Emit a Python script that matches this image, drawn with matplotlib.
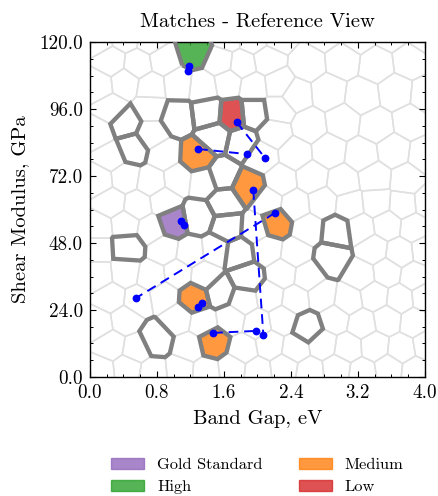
import numpy as np
import matplotlib
matplotlib.use('Agg')
import matplotlib.pyplot as plt
import matplotlib.tri as mtri
from matplotlib.patches import Polygon, Patch
from matplotlib.ticker import MultipleLocator, FormatStrFormatter

plt.rcParams['font.family'] = 'serif'
plt.rcParams['font.serif'] = ['cmr10']
plt.rcParams['mathtext.fontset'] = 'cm'
plt.rcParams['axes.formatter.use_mathtext'] = True

# highlighted cells (band gap eV, shear modulus GPa) and their class
HL_X = [1.25, 1.04, 1.41, 1.70, 1.95, 1.49, 1.81, 1.28, 1.58, 1.89, 1.61, 1.29, 0.98,
        1.64, 2.21, 1.77, 1.87, 1.55, 1.25, 1.47, 0.78, 0.44, 2.95, 2.89, 2.60, 0.42, 0.50]
HL_Y = [117.0, 93.2, 94.6, 93.9, 94.6, 86.0, 83.9, 78.9, 72.4, 68.1, 62.4, 57.3, 55.6,
        53.8, 55.2, 44.4, 35.5, 30.5, 28.3, 12.5, 13.3, 46.6, 52.0, 42.6, 17.6, 91.0, 82.1]
HL_CAT = ['high', '', '', 'low', '', '', '', 'medium', '', 'medium', '', '', 'gold',
          '', 'medium', '', '', '', 'medium', 'medium', '', '', '', '', '', '', '']

# background cells, row by row from the bottom
BG_X = [0.12, 0.45, 0.75, 1.08, 1.38, 1.70, 2.00, 2.32, 2.62, 2.95, 3.25, 3.57, 3.88,
        0.25, 0.55, 0.88, 1.18, 1.52, 1.83, 2.15, 2.45, 2.78, 3.08, 3.40, 3.72, 4.02,
        0.10, 0.42, 0.72, 1.05, 1.35, 1.68, 2.00, 2.30, 2.62, 2.92, 3.25, 3.55, 3.87,
        0.25, 0.57, 0.88, 1.20, 1.52, 1.83, 2.15, 2.45, 2.77, 3.08, 3.40, 3.70, 4.00,
        0.10, 0.42, 0.73, 1.05, 1.37, 1.68, 2.00, 2.30, 2.60, 2.92, 3.23, 3.55, 3.87,
        0.10, 0.25, 0.57, 0.88, 1.20, 1.50, 1.82, 2.12, 2.45, 2.75, 3.08, 3.38, 3.70, 4.00,
        0.10, 0.42, 0.73, 1.05, 1.37, 1.68, 1.98, 2.30, 2.60, 2.92, 3.23, 3.55, 3.87,
        0.25, 0.57, 0.88, 1.20, 1.50, 1.82, 2.12, 2.45, 2.78, 3.10, 3.42, 3.74, 4.03,
        0.10, 0.42, 0.73, 1.05, 1.35, 1.65, 1.95, 2.28, 2.65, 3.02, 3.40, 3.78,
        0.25, 0.57, 0.88, 1.18, 1.50, 1.80, 2.05, 2.45, 2.85, 3.25, 3.62, 4.00,
        0.10, 0.42, 0.73, 1.05, 1.35, 1.65, 1.95, 2.20, 2.62, 3.02, 3.42, 3.82,
        0.25, 0.72, 2.25, 2.45, 2.85, 3.25, 3.65, 4.02,
        0.10, 0.42, 0.73, 1.05, 1.35, 1.65, 1.95, 2.25,
        0.25, 0.57, 0.88, 1.55, 1.82, 2.12, 2.60, 3.02, 3.42, 3.82,
        0.10, 0.42, 0.73, 1.65, 1.95, 2.25, 2.80, 3.20, 3.60, 4.00]
BG_Y = [2.0, 3.0, 1.5, 2.5, 1.8, 3.0, 2.0, 3.2, 1.8, 2.8, 1.5, 3.0, 2.0,
        11.5, 10.0, 11.8, 10.5, 11.0, 9.8, 11.5, 10.2, 11.8, 10.5, 11.0, 10.0, 11.5,
        19.0, 20.5, 19.2, 21.0, 19.5, 20.8, 19.0, 20.5, 19.2, 20.8, 19.0, 20.5, 19.5,
        28.5, 27.5, 29.0, 27.8, 28.5, 27.5, 29.0, 27.8, 28.8, 27.5, 29.0, 28.0, 28.8,
        36.5, 37.5, 36.0, 37.0, 36.2, 37.5, 36.0, 37.0, 36.0, 37.5, 36.5, 37.5, 36.0,
        46.0, 45.5, 44.5, 45.8, 44.5, 45.5, 44.8, 45.8, 44.5, 45.5, 44.8, 45.8, 44.5, 45.5,
        53.5, 54.5, 53.0, 54.0, 53.0, 54.5, 53.2, 54.5, 53.0, 54.0, 53.2, 54.5, 53.5,
        62.5, 61.5, 62.8, 61.5, 62.5, 61.5, 62.8, 61.5, 62.5, 61.5, 62.5, 61.8, 62.5,
        70.5, 71.5, 70.0, 71.0, 70.0, 71.5, 70.0, 70.5, 71.5, 70.0, 71.5, 70.5,
        79.0, 78.0, 79.5, 78.0, 79.5, 78.5, 79.0, 80.0, 81.0, 79.5, 81.0, 79.5,
        87.5, 88.5, 87.0, 88.0, 87.0, 88.5, 87.0, 87.5, 90.0, 91.5, 90.0, 91.5,
        96.0, 96.5, 96.0, 101.0, 102.0, 100.5, 102.0, 101.0,
        104.5, 105.5, 104.0, 105.0, 104.0, 105.5, 104.0, 105.0,
        113.0, 112.0, 113.5, 113.0, 112.0, 113.5, 112.5, 113.5, 112.0, 113.5,
        121.0, 122.0, 121.0, 122.0, 121.0, 122.0, 123.0, 122.0, 123.0, 122.0]

# matched pairs (start point -> end point)
MATCH_X0 = [1.18, 1.75, 1.29, 1.95, 2.21, 1.09, 1.29, 1.47]
MATCH_Y0 = [111.5, 91.4, 81.7, 67.0, 58.8, 55.8, 25.1, 15.8]
MATCH_X1 = [1.17, 2.09, 1.87, 2.07, 0.55, 1.12, 1.34, 1.98]
MATCH_Y1 = [109.7, 78.5, 79.9, 15.1, 28.3, 54.3, 26.5, 16.5]

CAT_COLORS = {'gold': '#9467bd', 'high': '#2ca02c', 'medium': '#ff7f0e', 'low': '#d62728'}
LEGEND = [('gold', 'Gold Standard'), ('high', 'High'), ('medium', 'Medium'), ('low', 'Low')]

XMAX, YMAX = 4.0, 120.0


def voronoi_cells(u, v):
    # far ring of helper points so that every real cell is closed
    ang = np.linspace(0, 2 * np.pi, 24, endpoint=False)
    fu = np.concatenate([u, 0.5 + 3 * np.cos(ang)])
    fv = np.concatenate([v, 0.5 + 3 * np.sin(ang)])
    t = mtri.Triangulation(fu, fv).triangles
    ax_, ay_ = fu[t[:, 0]], fv[t[:, 0]]
    bx_, by_ = fu[t[:, 1]], fv[t[:, 1]]
    cx_, cy_ = fu[t[:, 2]], fv[t[:, 2]]
    d = 2 * (ax_ * (by_ - cy_) + bx_ * (cy_ - ay_) + cx_ * (ay_ - by_))
    a2, b2, c2 = ax_**2 + ay_**2, bx_**2 + by_**2, cx_**2 + cy_**2
    ccx = (a2 * (by_ - cy_) + b2 * (cy_ - ay_) + c2 * (ay_ - by_)) / d
    ccy = (a2 * (cx_ - bx_) + b2 * (ax_ - cx_) + c2 * (bx_ - ax_)) / d
    cells = []
    for i in range(len(u)):
        m = (t == i).any(axis=1)
        px, py = ccx[m], ccy[m]
        order = np.argsort(np.arctan2(py - v[i], px - u[i]))
        cells.append(np.column_stack([px[order] * XMAX, py[order] * YMAX]))
    return cells


hl_u = np.array(HL_X) / XMAX
hl_v = np.array(HL_Y) / YMAX
bg_u = np.array(BG_X) / XMAX
bg_v = np.array(BG_Y) / YMAX
# drop background seeds that sit on top of a highlighted one
dist = np.hypot(bg_u[:, None] - hl_u[None, :], bg_v[:, None] - hl_v[None, :])
keep = dist.min(axis=1) > 0.055
u = np.concatenate([hl_u, bg_u[keep]])
v = np.concatenate([hl_v, bg_v[keep]])
cells = voronoi_cells(u, v)

fig = plt.figure(figsize=(4.39, 4.96), dpi=100)
ax = fig.add_axes([0.205, 0.240, 0.763, 0.675])

for c in cells:
    ax.add_patch(Polygon(c, closed=True, facecolor='none', edgecolor='#e0e0e0', lw=1.1, zorder=1))

for c, cat in zip(cells[:len(HL_X)], HL_CAT):
    if cat:
        ax.add_patch(Polygon(c, closed=True, facecolor=CAT_COLORS[cat], alpha=0.8,
                             edgecolor='none', zorder=2))
    ax.add_patch(Polygon(c, closed=True, facecolor='none', edgecolor='#808080',
                         lw=3.1, joinstyle='miter', zorder=3))

for x0, y0, x1, y1 in zip(MATCH_X0, MATCH_Y0, MATCH_X1, MATCH_Y1):
    ax.plot([x0, x1], [y0, y1], color='blue', ls='--', lw=1.4, marker='o', ms=4.6,
            dashes=(5, 3), zorder=4)

ax.set_xlim(0, XMAX)
ax.set_ylim(0, YMAX)
ax.xaxis.set_major_locator(MultipleLocator(0.8))
ax.xaxis.set_minor_locator(MultipleLocator(0.2))
ax.yaxis.set_major_locator(MultipleLocator(24))
ax.yaxis.set_minor_locator(MultipleLocator(6))
ax.xaxis.set_major_formatter(FormatStrFormatter('%.1f'))
ax.yaxis.set_major_formatter(FormatStrFormatter('%.1f'))
ax.tick_params(which='both', direction='in', top=True, right=True, labelsize=13.8, pad=5)
ax.tick_params(which='major', length=4, width=0.8)
ax.tick_params(which='minor', length=2, width=0.7)
for s in ax.spines.values():
    s.set_linewidth(1.0)

ax.set_title('Matches - Reference View', fontsize=14.8, pad=11)
ax.set_xlabel('Band Gap, eV', fontsize=14.8, labelpad=6)
ax.set_ylabel('Shear Modulus, GPa', fontsize=14.8, labelpad=7)

handles = [Patch(facecolor=CAT_COLORS[k], edgecolor=CAT_COLORS[k], alpha=0.8, label=lab)
           for k, lab in LEGEND]
ax.legend(handles=handles, loc='upper center', bbox_to_anchor=(0.5, -0.198), ncol=2,
          frameon=False, fontsize=11.8, handlelength=2.0, columnspacing=2.2,
          handletextpad=0.8, labelspacing=0.45)

fig.savefig('out.png', dpi=100)
